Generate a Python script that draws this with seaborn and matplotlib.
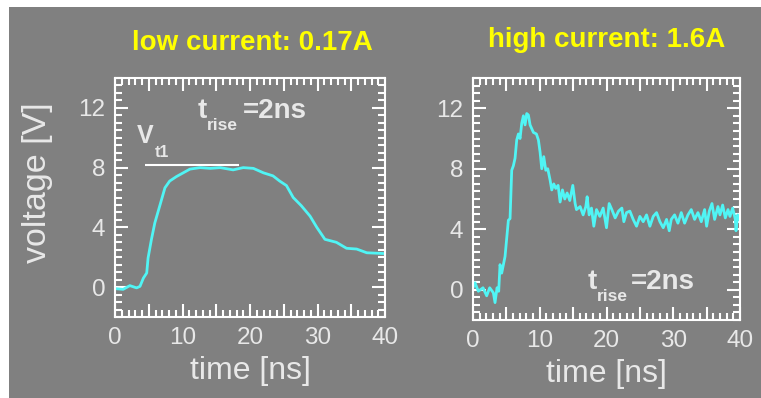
import matplotlib
matplotlib.use("Agg")
import matplotlib.pyplot as plt
import seaborn as sns
from matplotlib.patches import Rectangle
from matplotlib.ticker import MultipleLocator, FuncFormatter

# pulse traces
low_t = [0.0, 1.2, 2.2, 3.2, 3.7, 4.2, 4.7, 4.9, 5.4, 5.9, 6.7, 7.4, 8.1, 9.1, 10.1,
         11.1, 12.6, 14.1, 15.6, 17.5, 19.0, 20.5, 22.0, 23.4, 24.4, 25.4, 26.4,
         27.6, 28.9, 29.9, 31.1, 32.8, 34.3, 35.8, 37.3, 39.8]
low_v = [-0.1, -0.15, 0.1, -0.05, 0.05, 0.6, 0.95, 1.95, 3.2, 4.3, 5.55, 6.65, 7.1,
         7.4, 7.65, 7.9, 8.0, 7.95, 8.0, 7.85, 8.0, 7.95, 7.65, 7.45, 7.1, 6.8, 6.0,
         5.45, 4.75, 4.0, 3.2, 3.0, 2.6, 2.55, 2.3, 2.25]

high_t = [0.0, 0.3, 0.8, 1.5, 2.05, 2.5, 3.05, 3.3, 3.6, 3.85, 4.05, 4.3, 4.8, 5.3,
          5.55, 5.8, 6.05, 6.3, 6.55, 6.8, 7.05, 7.3, 7.55, 7.8, 8.05, 8.3, 8.55,
          9.05, 9.5, 9.8, 10.05, 10.3, 10.6, 10.9, 11.2, 11.55, 11.8, 12.1, 12.4,
          12.75, 13.05, 13.4, 13.75, 14.1, 14.5, 14.95, 15.3, 15.5, 16.05, 16.5,
          16.9, 17.1, 17.4, 17.75, 18.1, 18.5, 19.0, 19.5, 20.0, 20.4, 20.8, 21.3,
          21.8, 22.3, 22.6, 23.0, 23.5, 24.0, 24.5, 25.0, 25.5, 26.0, 26.5, 27.0,
          27.5, 28.0, 28.5, 29.0, 29.4, 29.7, 30.2, 30.7, 31.2, 31.7, 32.2, 32.7,
          33.2, 33.7, 34.2, 34.7, 35.0, 35.4, 35.8, 36.2, 36.7, 37.0, 37.4, 37.8,
          38.2, 38.5, 38.9, 39.3, 39.4, 39.65, 39.9]
high_v = [0.13, 0.46, -0.1, 0.13, -0.4, 0.13, -0.2, -0.85, 0.13, -0.1, 1.66, 1.1,
          2.2, 4.6, 4.7, 7.9, 8.2, 8.7, 9.9, 10.3, 10.0, 11.0, 11.5, 10.9, 11.65,
          11.55, 10.9, 10.4, 10.3, 9.9, 9.1, 8.0, 8.8, 7.9, 8.0, 7.25, 6.6, 7.0,
          6.7, 6.9, 5.8, 6.6, 6.0, 6.4, 5.9, 6.9, 5.7, 5.3, 5.5, 4.95, 5.5, 6.15,
          4.95, 5.4, 4.2, 5.3, 4.85, 5.4, 4.1, 5.7, 5.3, 4.75, 5.2, 5.4, 4.5, 5.1,
          5.2, 4.65, 4.2, 4.85, 4.5, 4.95, 4.2, 4.85, 5.1, 4.5, 4.1, 4.65, 3.9,
          4.65, 4.95, 4.4, 5.1, 4.4, 4.95, 5.3, 4.65, 5.1, 4.5, 5.3, 4.2, 5.2, 5.7,
          4.65, 5.5, 4.95, 5.6, 4.75, 5.3, 4.85, 5.4, 4.65, 3.9, 4.95, 4.65]

titles = ["low current: 0.17A", "high current: 1.6A"]

GREY = "#808080"
CYAN = "#50F5F5"
FG = "#E8E8E8"

sns.set_theme(style="ticks")
plt.rcParams["font.family"] = ["Liberation Sans", "DejaVu Sans"]

fig = plt.figure(figsize=(7.61, 3.98), dpi=100)
fig.patch.set_facecolor("white")
fig.patches.append(Rectangle((9 / 761, 0), 1, 1 - 7 / 398, transform=fig.transFigure,
                             facecolor=GREY, edgecolor="none", zorder=-1))

ax1 = fig.add_axes([115 / 761, 1 - 317 / 398, 270 / 761, 239 / 398])
ax2 = fig.add_axes([473 / 761, 1 - 320 / 398, 267 / 761, 242 / 398])

for ax, t, v in [(ax1, low_t, low_v), (ax2, high_t, high_v)]:
    ax.set_facecolor(GREY)
    sns.lineplot(x=t, y=v, ax=ax, color=CYAN, lw=2.0, estimator=None)
    ax.set_xlim(0, 40)
    ax.set_ylim(-2, 14)
    ax.xaxis.set_major_locator(MultipleLocator(5))
    ax.xaxis.set_minor_locator(MultipleLocator(1))
    ax.xaxis.set_major_formatter(FuncFormatter(lambda x, p: f"{x:.0f}" if x % 10 == 0 else ""))
    ax.yaxis.set_major_locator(MultipleLocator(4))
    ax.yaxis.set_minor_locator(MultipleLocator(0.5))
    ax.tick_params(which="both", direction="in", top=True, right=True, colors="white",
                   width=1.5, labelcolor=FG, labelsize=17.5, pad=7)
    ax.tick_params(which="major", length=9.5)
    ax.tick_params(which="minor", length=5)
    for s in ax.spines.values():
        s.set_color("white")
        s.set_linewidth(1.5)
    ax.set_xlabel("time [ns]", color=FG, fontsize=23, labelpad=5)
    ax.set_ylabel("")

# annotations, left panel
bold = dict(color=FG, fontweight="bold", ha="left", va="center")
ax1.hlines(8.2, 4.4, 18.3, color="white", lw=1.5)
ax1.text(3.3, 10.1, "V", fontsize=18, **bold)
ax1.text(5.9, 9.0, "t1", fontsize=11.5, **bold)
ax1.text(12.3, 11.8, "t", fontsize=20, **bold)
ax1.text(13.6, 10.8, "rise", fontsize=12.5, **bold)
ax1.text(19.0, 11.8, "=2ns", fontsize=20, **bold)

# annotations, right panel
ax2.text(17.1, 0.5, "t", fontsize=20, **bold)
ax2.text(18.6, -0.45, "rise", fontsize=12.5, **bold)
ax2.text(23.7, 0.5, "=2ns", fontsize=20, **bold)

fig.text(38 / 761, 1 - 183 / 398, "voltage [V]", rotation=90, color=FG, fontsize=24.5,
         ha="center", va="center")
fig.text(252 / 761, 1 - 43 / 398, titles[0], color="#FFFF00", fontsize=20,
         fontweight="bold", ha="center", va="center")
fig.text(607 / 761, 1 - 40 / 398, titles[1], color="#FFFF00", fontsize=20,
         fontweight="bold", ha="center", va="center")

fig.savefig("out.png", dpi=100, facecolor=fig.get_facecolor())
